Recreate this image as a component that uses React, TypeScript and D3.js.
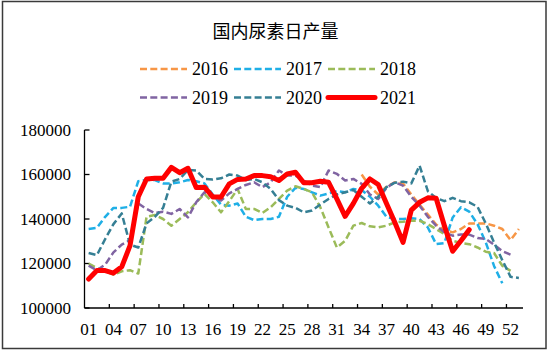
import React from "react";
import * as d3 from "d3";

// week categories (53 weeks on the axis)
const weeks = [
  "01", "02", "03", "04", "05", "06", "07", "08", "09", "10",
  "11", "12", "13", "14", "15", "16", "17", "18", "19", "20",
  "21", "22", "23", "24", "25", "26", "27", "28", "29", "30",
  "31", "32", "33", "34", "35", "36", "37", "38", "39", "40",
  "41", "42", "43", "44", "45", "46", "47", "48", "49", "50",
  "51", "52", "53",
];

const yTicks = [100000, 120000, 140000, 160000, 180000];

// 2016 starts at week 34
const v2016 = [
  160000, 154500, 151000, 154500, 156500, 156000, 151000, 146500, 142000, 137500,
  135000, 134000, 135500, 138000, 138000, 138000, 137000, 135500, 130500, 135500,
];
const v2017 = [
  135500, 136000, 141000, 145000, 145000, 145500, 157000, 157500, 157500, 156000,
  156000, 156500, 157500, 157000, 156000, 151000, 146500, 146000, 147000, 141000,
  139500, 140000, 140000, 141000, 150000, 154000, 153500, 152000, 150500, 151500,
  152500, 152000, 153500, 153000, 150000, 146000, 141000, 140000, 140000, 140300,
  140000, 136200, 128700, 129200, 140700, 145300, 143300, 137700, 129500, 118900,
  111100,
];
const v2018 = [
  120000, 118000, 116500, 115000, 116500, 117000, 115500, 141000, 141800, 140000,
  137000, 140000, 143000, 147500, 151300, 147500, 143000, 148000, 153500, 144500,
  144500, 142700, 145300, 149000, 152800, 154700, 153500, 152000, 145300, 136200,
  127200, 130200, 137000, 138200, 136700, 136200, 137000, 138500, 138800, 139200,
  139200, 137700, 135500, 133200, 130200, 129200, 128700, 127200, 125300, 124700,
  119000, 116700,
];
const v2019 = [
  119000, 117000, 119500, 125000, 128500, 130500, 147000, 144500, 142700, 143300,
  142300, 144500, 140700, 147500, 152000, 149800, 148300, 151500, 153500, 155300,
  156500, 154300, 156500, 161800, 159500, 159500, 157300, 155000, 154300, 161800,
  160300, 157300, 158000, 155800, 151000, 149000, 154000, 156500, 155000, 150000,
  146000, 141000, 137000, 134000, 132500, 133000, 133000, 131500, 131000, 128500,
  125500, 124000,
];
const v2020 = [
  124700, 123800, 131000, 137700, 142500, 128500, 127200, 138000, 141000, 145000,
  156800, 158000, 162000, 161800, 158000, 157700, 158300, 160000, 159500, 157500,
  158000, 156500, 153500, 148500, 146000, 145000, 143000, 143800, 146500, 149000,
  151000, 152000, 153000, 150000, 147000, 150000, 154300, 156300, 156800, 156000,
  164000, 152500, 149500, 148000, 149500, 148000, 147500, 145500, 138000, 129500,
  121500, 114000, 113500,
];
const v2021 = [
  113000, 116800, 116800, 115700, 118500, 128000, 150000, 158000, 158300, 158300,
  163200, 160800, 162800, 154200, 154300, 149900, 149900, 155800, 157800, 158000,
  159500, 159500, 159000, 157300, 160300, 161000, 156300, 156300, 157000, 156500,
  149000, 141200, 147000, 153800, 158000, 155500, 147000, 138500, 129500, 144000,
  147500, 149500, 149300, 137000, 125500, 130200, 135200,
];

const seriesNames = ["2016", "2017", "2018", "2019", "2020", "2021"];
const seriesValues = [v2016, v2017, v2018, v2019, v2020, v2021];
const seriesFirstWeek = [34, 1, 1, 1, 1, 1];
const seriesColors = ["#F79646", "#1FAFE6", "#9BBB59", "#8064A2", "#357F94", "#FF0000"];

const W = 550;
const H = 351;
const numFont = "'Times New Roman', 'Liberation Serif', serif";

const App = () => {
  const x = d3.scaleBand().domain(weeks).range([84.5, 523]).padding(0);
  const y = d3.scaleLinear().domain([100000, 180000]).range([308, 130]);
  const cx = (w) => (x(w) || 0) + x.bandwidth() / 2;

  const line = d3
    .line()
    .x((d) => cx(d[0]))
    .y((d) => y(d[1]));

  const series = seriesNames.map((name, i) => ({
    name,
    color: seriesColors[i],
    solid: name === "2021",
    points: seriesValues[i].map((v, j) => [weeks[seriesFirstWeek[i] - 1 + j], v]),
  }));

  // tick marks every 3 categories, on the band boundaries
  const tickIdx = d3.range(3, weeks.length - 1, 3);
  const labelWeeks = weeks.filter((_, i) => i % 3 === 0);

  const legendCols = [140, 234, 328];
  const legendRows = [69, 97.5];

  return (
    <svg width={W} height={H} style={{ position: "absolute", left: 0, top: 0, background: "#fff" }}>
      <rect x={0} y={0} width={W} height={H} fill="#fff" />
      <rect x={2.5} y={1.5} width={543.5} height={347} fill="none" stroke="#3a3a3a" strokeWidth={1.5} />

      {/* title */}
      <text x={275.5} y={30} textAnchor="middle" dominantBaseline="central"
        style={{ fontFamily: "'Noto Sans CJK SC', sans-serif", fontSize: 18, fill: "#000" }}>
        国内尿素日产量
      </text>

      {/* legend */}
      {series.map((s, i) => {
        const lx = legendCols[i % 3];
        const ly = legendRows[Math.floor(i / 3)];
        return (
          <g key={s.name}>
            <line x1={lx} x2={lx + 47} y1={ly} y2={ly} stroke={s.color}
              strokeWidth={s.solid ? 5 : 2.5}
              strokeDasharray={s.solid ? null : "7,3.3"}
              strokeLinecap={s.solid ? "round" : "butt"} />
            <text x={lx + 52} y={ly} dominantBaseline="central"
              style={{ fontFamily: numFont, fontSize: 18, fill: "#000" }}>
              {s.name}
            </text>
          </g>
        );
      })}

      {/* y axis */}
      <line x1={84.5} x2={84.5} y1={130} y2={308} stroke="#000" strokeWidth={1.3} />
      {yTicks.map((t) => (
        <g key={t}>
          <line x1={84.5} x2={89.5} y1={y(t)} y2={y(t)} stroke="#000" strokeWidth={1.3} />
          <text x={71} y={y(t)} textAnchor="end" dominantBaseline="central"
            style={{ fontFamily: numFont, fontSize: 17, fill: "#000" }}>
            {t}
          </text>
        </g>
      ))}

      {/* x axis */}
      <line x1={84.5} x2={523} y1={308} y2={308} stroke="#000" strokeWidth={1.3} />
      {tickIdx.map((i) => (
        <line key={i} x1={x(weeks[i])} x2={x(weeks[i])} y1={308} y2={304} stroke="#000" strokeWidth={1.3} />
      ))}
      {labelWeeks.map((w) => (
        <text key={w} x={cx(w)} y={329} textAnchor="middle" dominantBaseline="central"
          style={{ fontFamily: numFont, fontSize: 17, fill: "#000" }}>
          {w}
        </text>
      ))}

      {/* series */}
      {series.map((s) => (
        <path key={s.name} d={line(s.points)} fill="none" stroke={s.color}
          strokeWidth={s.solid ? 5 : 2.5}
          strokeDasharray={s.solid ? null : "7,3.3"}
          strokeLinejoin="round"
          strokeLinecap={s.solid ? "round" : "butt"} />
      ))}
    </svg>
  );
};

export default App;
